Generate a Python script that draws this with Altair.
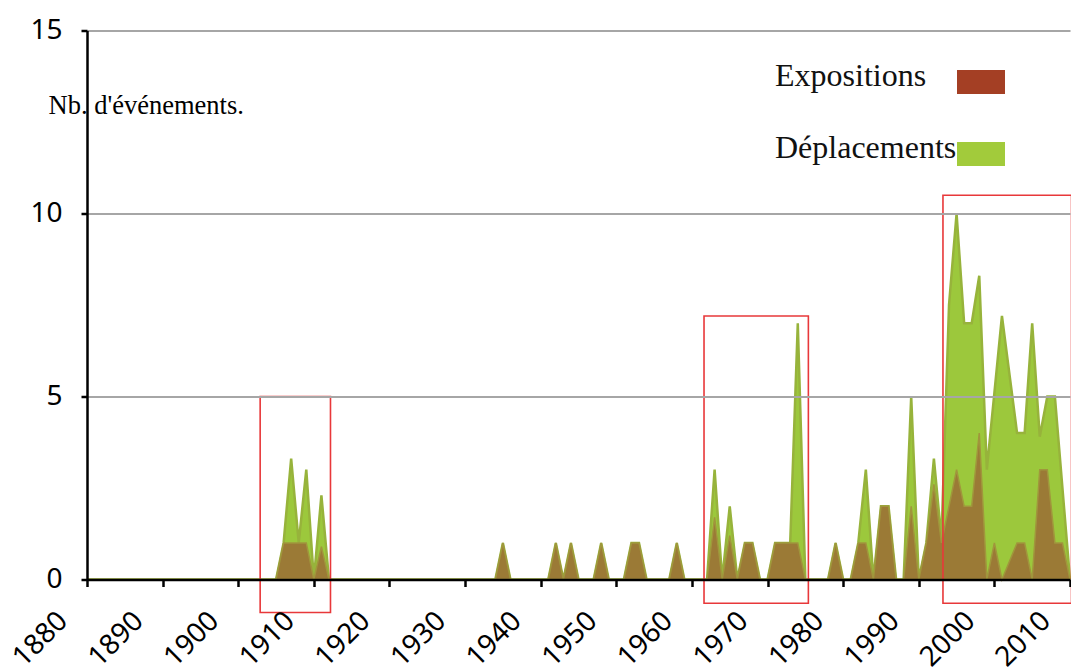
import altair as alt
import pandas as pd

# ---- data (number of events per year) ----
years = [1880, 1905, 1906, 1907, 1908, 1909, 1910, 1911, 1912,
         1934, 1935, 1936, 1941, 1942, 1943, 1944, 1945, 1947, 1948, 1949,
         1951, 1952, 1953, 1954, 1957, 1958, 1959,
         1962, 1963, 1964, 1965, 1966, 1967, 1968, 1969, 1970,
         1971, 1972, 1973, 1974, 1975, 1978, 1979, 1980, 1981,
         1982, 1983, 1984, 1985, 1986, 1987, 1988, 1989, 1990,
         1991, 1992, 1993, 1994, 1995, 1996, 1997, 1998, 1999,
         2000, 2001, 2002, 2003, 2004, 2005, 2006, 2007, 2008, 2009, 2010]
expositions = [0, 0, 1, 1, 1, 1, 0, 0.9, 0,
               0, 1, 0, 0, 1, 0, 1, 0, 0, 1, 0,
               0, 1, 1, 0, 0, 1, 0,
               0, 1.7, 0, 1.2, 0, 1, 1, 0, 0,
               1, 1, 1, 1, 0, 0, 1, 0, 0,
               1, 1, 0, 2, 2, 0, 0, 2, 0,
               1, 2.6, 1, 2, 3, 2, 2, 4, 0,
               1, 0, 0.5, 1, 1, 0, 3, 3, 1, 1, 0]
deplacements = [0, 0, 1, 3.3, 1, 3, 0, 2.3, 0,
                0, 1, 0, 0, 1, 0, 1, 0, 0, 1, 0,
                0, 1, 1, 0, 0, 1, 0,
                0, 3, 0, 2, 0, 1, 1, 0, 0,
                1, 1, 1, 7, 0, 0, 1, 0, 0,
                1, 3, 0, 2, 2, 0, 0, 5, 0,
                1, 3.3, 1.1, 7.5, 10, 7, 7, 8.3, 3,
                5.1, 7.2, 5.6, 4, 4, 7, 3.9, 5, 5, 2.5, 0]

series_names = ["Expositions", "Déplacements"]
legend_colors = ["#A43F24", "#A2CB3B"]
x_ticks = [1880, 1890, 1900, 1910, 1920, 1930, 1940, 1950, 1960, 1970,
           1980, 1990, 2000, 2010]
y_ticks = [0, 5, 10, 15]
y_title = "Nb. d'événements."

# red highlight frames (in data units)
box_x1 = [1902.9, 1961.6, 1993.2]
box_x2 = [1912.2, 1975.4, 2010.2]
box_y1 = [-0.9, -0.65, -0.65]
box_y2 = [5.0, 7.2, 10.5]

df = pd.DataFrame({"year": years, "expo": expositions, "depl": deplacements})
boxes = pd.DataFrame({"x1": box_x1, "x2": box_x2, "y1": box_y1, "y2": box_y2})

W, H = 983, 549
LEFT = 79  # plot origin at page x = 8 + LEFT
xs = alt.Scale(domain=[1880, 2010], nice=False, zero=False)
ys = alt.Scale(domain=[0, 15], nice=False)

x_axis = alt.Axis(values=x_ticks, format="d", title=None, grid=False,
                  labelAngle=-45, labelAlign="right", labelBaseline="middle",
                  labelFont="Noto Sans", labelFontSize=28, labelColor="black",
                  labelPadding=30, labelOffset=-24, labelOverlap=False, labelFlush=False,
                  tickColor="black", tickWidth=2.5, tickSize=7,
                  domainColor="black", domainWidth=2.5, zindex=1)
y_axis = alt.Axis(values=y_ticks, title=y_title, grid=True,
                  gridColor="#A6A6A6", gridWidth=2,
                  labelFont="Noto Sans", labelFontSize=28, labelColor="black",
                  labelPadding=19,
                  tickColor="black", tickWidth=2.5, tickSize=6,
                  domainColor="black", domainWidth=2.5,
                  titleFont="Liberation Serif", titleFontSize=26.5, titleFontWeight="normal",
                  titleColor="black", titleAngle=0, titleAlign="left",
                  titleBaseline="alphabetic", titleX=48 - 8 - LEFT, titleY=82.5, zindex=1)

base = alt.Chart(df)
green = base.mark_area(color="#9CC83C", stroke="#97B33B", strokeWidth=2.5,
                       interpolate="linear").encode(
    x=alt.X("year:Q", scale=xs, axis=x_axis),
    y=alt.Y("depl:Q", scale=ys, axis=y_axis),
)
brown = base.mark_area(color="#9B7A36", stroke="#A0963C", strokeWidth=1.5,
                       interpolate="linear").encode(
    x=alt.X("year:Q", scale=xs),
    y=alt.Y("expo:Q", scale=ys),
)
frames = alt.Chart(boxes).mark_rect(fillOpacity=0, stroke="#E8383A", strokeWidth=1.6).encode(
    x=alt.X("x1:Q", scale=xs), x2="x2:Q",
    y=alt.Y("y1:Q", scale=ys), y2="y2:Q",
)

lx = 775 - 8 - LEFT
rx = 957 - 8 - LEFT
legend_font = dict(font="Liberation Serif", fontSize=32, color="#111111",
                   align="left", baseline="alphabetic")
leg_t1 = alt.Chart().mark_text(text=series_names[0], **legend_font).encode(
    x=alt.value(lx), y=alt.value(55.5))
leg_t2 = alt.Chart().mark_text(text=series_names[1], **legend_font).encode(
    x=alt.value(lx), y=alt.value(127.8))
leg_r1 = alt.Chart().mark_rect(color=legend_colors[0]).encode(
    x=alt.value(rx), x2=alt.value(rx + 48), y=alt.value(39.5), y2=alt.value(63.5))
leg_r2 = alt.Chart().mark_rect(color=legend_colors[1]).encode(
    x=alt.value(rx), x2=alt.value(rx + 48), y=alt.value(111.5), y2=alt.value(135.5))

chart = alt.layer(green, brown, frames, leg_t1, leg_t2, leg_r1, leg_r2).properties(
    width=W, height=H,
    autosize=alt.AutoSizeParams(type="none"),
    padding={"left": LEFT, "top": 22.5, "right": 1, "bottom": 89.5},
    background="white",
).configure_view(stroke=None)

chart.save("out.html", embed_options={"renderer": "svg", "actions": False})
